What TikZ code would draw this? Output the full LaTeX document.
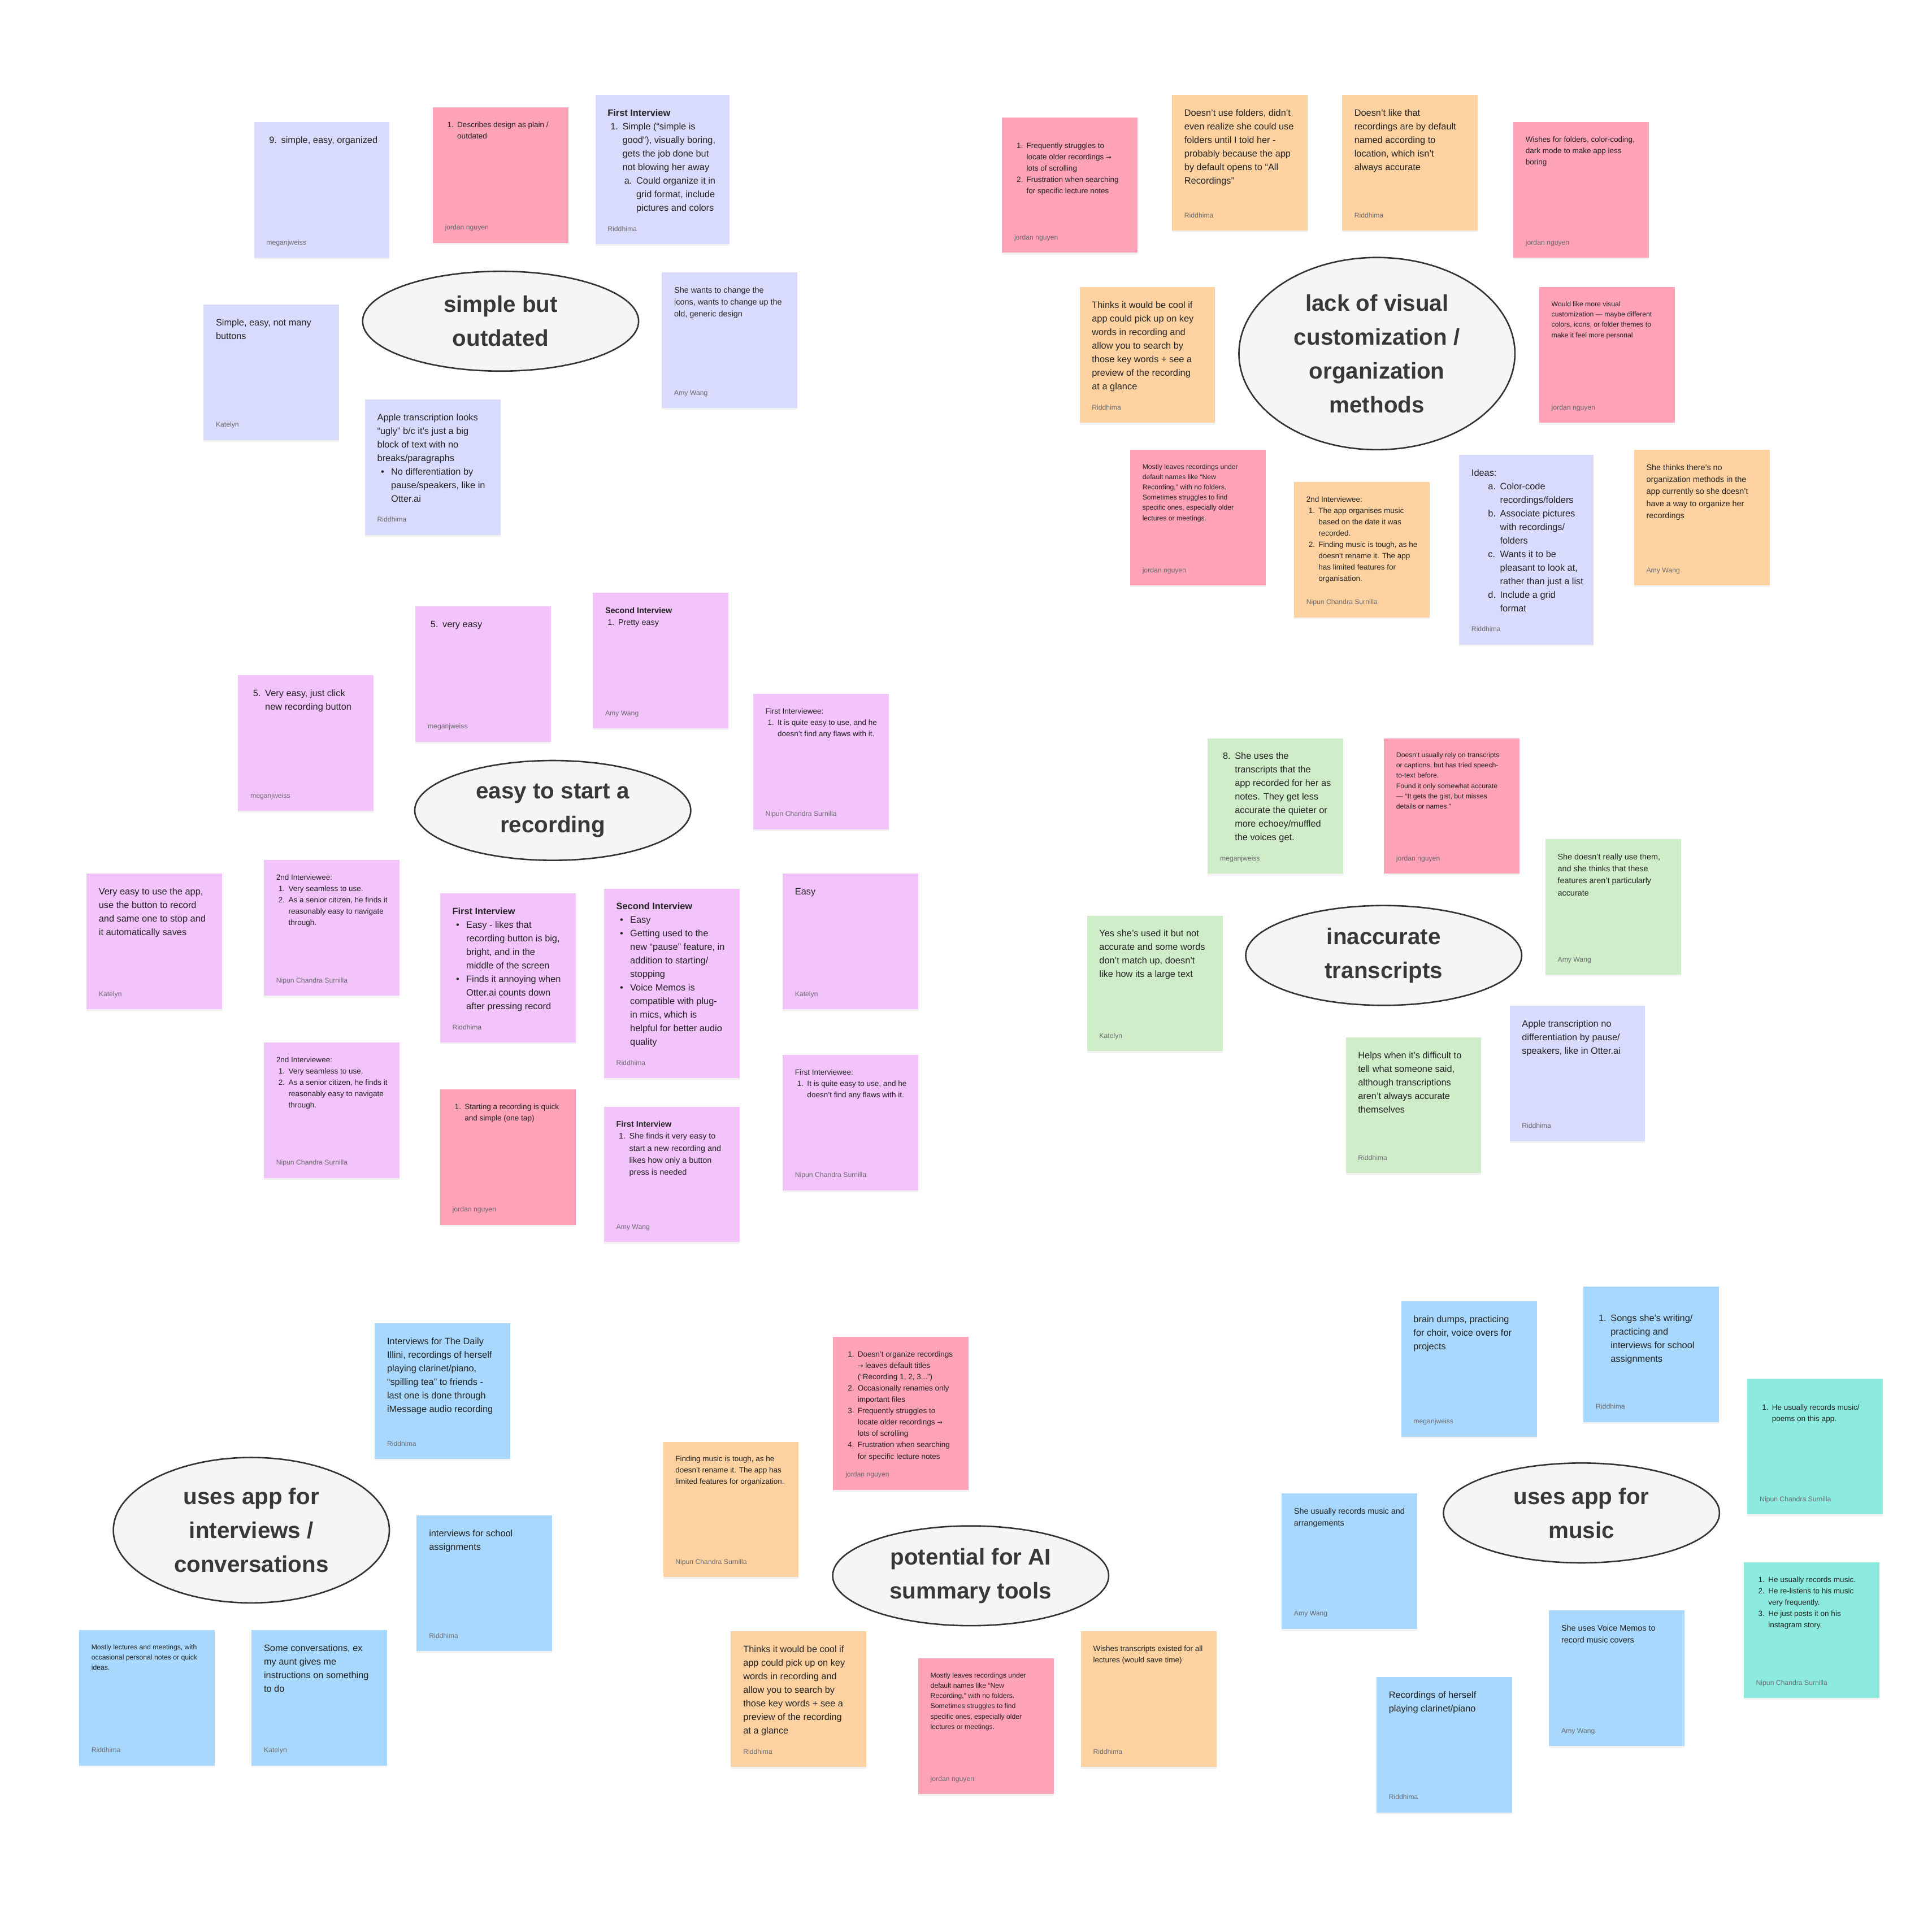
\documentclass[tikz,border=0pt]{standalone}
\usepackage{fontspec}
\setmainfont{Liberation Sans}
\newfontfamily\arrowfont{DejaVu Sans}
\usetikzlibrary{shapes.geometric,shadows}
\definecolor{cLav}{HTML}{D9DBFC}
\definecolor{cPink}{HTML}{FEA2B8}
\definecolor{cPeach}{HTML}{FDD2A0}
\definecolor{cViolet}{HTML}{F3C4FC}
\definecolor{cMint}{HTML}{D0EDC9}
\definecolor{cSky}{HTML}{A8D8FD}
\definecolor{cTeal}{HTML}{8CEBDE}
\definecolor{ink}{HTML}{222222}
\definecolor{authorgray}{HTML}{6C6C70}
\definecolor{bubble}{HTML}{F5F5F5}
\definecolor{outline}{HTML}{333333}
\definecolor{labelink}{HTML}{383838}
\newcommand{\itm}[1]{\hspace*{0.3em}\makebox[1.3em][l]{#1}}
\newcommand{\cnt}{\hspace*{1.6em}}
\newcommand{\sitm}[1]{\hspace*{1.8em}\makebox[1.3em][l]{#1}}
\newcommand{\scnt}{\hspace*{3.1em}}
\newcommand{\bul}{\hspace*{0.4em}\makebox[1.1em][l]{•}}
\newcommand{\bcnt}{\hspace*{1.5em}}
\newcommand{\rarr}{{\arrowfont\scalebox{0.85}{→}}}
\tikzset{
  stickybox/.style={draw=none, inner sep=0pt, anchor=north west, minimum width=110pt, minimum height=110pt,
    drop shadow={opacity=0.10, shadow xshift=0pt, shadow yshift=-1.5pt}},
  stext/.style={inner sep=0pt, anchor=north west, align=left, text=ink},
  sauthor/.style={inner sep=0pt, anchor=base west, text=authorgray, font=\fontsize{5.6}{7}\selectfont},
  fbig/.style={font=\fontsize{7.5}{11}\selectfont},
  fmed/.style={font=\fontsize{6.6}{9.8}\selectfont},
  fsmall/.style={font=\fontsize{6.2}{9.2}\selectfont},
  ftiny/.style={font=\fontsize{5.6}{8.3}\selectfont},
  topic/.style={ellipse, draw=outline, line width=1.2pt, fill=bubble, inner sep=0pt,
    minimum width=224pt, minimum height=81pt, align=center, text=labelink,
    font=\bfseries\fontsize{18.5}{27.5}\selectfont},
}
% #1 text y-offset, #2 name, #3 x,y, #4 box options, #5 font style, #6 text, #7 author
\newcommand{\sticky}[7][11.5]{%
  \node[stickybox, #4] (#2) at (#3) {};
  \node[stext, #5] (#2t) at ([xshift=10pt, yshift=-#1pt]#2.north west) {\rule{0pt}{.75em}#6};
  \node[sauthor] (#2a) at ([xshift=10pt, yshift=10.8pt]#2.south west) {#7};
}
\begin{document}
\begin{tikzpicture}[x=1pt, y=-1pt]
\fill[white] (0,0) rectangle (1568,1555);
\useasboundingbox (0,0) rectangle (1568,1555);

% ---------- simple but outdated ----------
\node[topic] (t1) at (406.3,260.7) {simple but\\outdated};
\sticky{n1}{206,99}{fill=cLav}{fbig}{\itm{9.}simple, easy, organized}{meganjweiss}
\sticky{n2}{351,87}{fill=cPink}{fsmall}{\itm{1.}Describes design as plain /\\\cnt outdated}{jordan nguyen}
\sticky{n3}{483,77}{fill=cLav, minimum width=109pt, minimum height=121pt}{fbig}{\textbf{First Interview}\\\itm{1.}Simple (“simple is\\\cnt good”), visually boring,\\\cnt gets the job done but\\\cnt not blowing her away\\\sitm{a.}Could organize it in\\\scnt grid format, include\\\scnt pictures and colors}{Riddhima}
\sticky{n4}{165,247}{fill=cLav}{fbig}{Simple, easy, not many\\buttons}{Katelyn}
\sticky{n5}{537,221}{fill=cLav}{fmed}{She wants to change the\\icons, wants to change up the\\old, generic design}{Amy Wang}
\sticky{n6}{296,324}{fill=cLav}{fbig}{Apple transcription looks\\“ugly” b/c it’s just a big\\block of text with no\\breaks/paragraphs\\\bul No differentiation by\\\bcnt pause/speakers, like in\\\bcnt Otter.ai}{Riddhima}

% ---------- lack of visual customization ----------
\node[topic, minimum height=156pt] (t2) at (1117.5,287) {lack of visual\\customization /\\organization\\methods};
\sticky[20.5]{n7}{813,95}{fill=cPink}{fsmall}{\itm{1.}Frequently struggles to\\\cnt locate older recordings \rarr\\\cnt lots of scrolling\\\itm{2.}Frustration when searching\\\cnt for specific lecture notes}{jordan nguyen}
\sticky{n8}{951,77}{fill=cPeach}{fbig}{Doesn’t use folders, didn’t\\even realize she could use\\folders until I told her -\\probably because the app\\by default opens to “All\\Recordings”}{Riddhima}
\sticky{n9}{1089,77}{fill=cPeach}{fbig}{Doesn’t like that\\recordings are by default\\named according to\\location, which isn’t\\always accurate}{Riddhima}
\sticky{n10}{1228,99}{fill=cPink}{fsmall}{Wishes for folders, color-coding,\\dark mode to make app less\\boring}{jordan nguyen}
\sticky{n11}{876,233}{fill=cPeach}{fbig}{Thinks it would be cool if\\app could pick up on key\\words in recording and\\allow you to search by\\those key words + see a\\preview of the recording\\at a glance}{Riddhima}
\sticky{n12}{1249,233}{fill=cPink}{ftiny}{Would like more visual\\customization — maybe different\\colors, icons, or folder themes to\\make it feel more personal}{jordan nguyen}
\sticky{n13}{917,365}{fill=cPink}{ftiny}{Mostly leaves recordings under\\default names like “New\\Recording,” with no folders.\\Sometimes struggles to find\\specific ones, especially older\\lectures or meetings.}{jordan nguyen}
\sticky{n14}{1050,391}{fill=cPeach}{fsmall}{2nd Interviewee:\\\itm{1.}The app organises music\\\cnt based on the date it was\\\cnt recorded.\\\itm{2.}Finding music is tough, as he\\\cnt doesn’t rename it. The app\\\cnt has limited features for\\\cnt organisation.}{Nipun Chandra Surnilla}
\sticky{n15}{1184,369}{fill=cLav, minimum width=109pt, minimum height=154pt}{fbig}{Ideas:\\\sitm{a.}Color-code\\\scnt recordings/folders\\\sitm{b.}Associate pictures\\\scnt with recordings/\\\scnt folders\\\sitm{c.}Wants it to be\\\scnt pleasant to look at,\\\scnt rather than just a list\\\sitm{d.}Include a grid\\\scnt format}{Riddhima}
\sticky{n16}{1326,365}{fill=cPeach}{fmed}{She thinks there’s no\\organization methods in the\\app currently so she doesn’t\\have a way to organize her\\recordings}{Amy Wang}

% ---------- easy to start a recording ----------
\node[topic] (t3) at (448.6,657.8) {easy to start a\\recording};
\sticky{n17}{337,492}{fill=cViolet}{fbig}{\itm{5.}very easy}{meganjweiss}
\sticky{n18}{481,481}{fill=cViolet}{fmed}{\textbf{Second Interview}\\\itm{1.}Pretty easy}{Amy Wang}
\sticky{n19}{193,548}{fill=cViolet}{fbig}{\itm{5.}Very easy, just click\\\cnt new recording button}{meganjweiss}
\sticky{n20}{611,563}{fill=cViolet}{fsmall}{First Interviewee:\\\itm{1.}It is quite easy to use, and he\\\cnt doesn’t find any flaws with it.}{Nipun Chandra Surnilla}
\sticky{n21}{70,709}{fill=cViolet}{fbig}{Very easy to use the app,\\use the button to record\\and same one to stop and\\it automatically saves}{Katelyn}
\sticky{n22}{214,698}{fill=cViolet}{fsmall}{2nd Interviewee:\\\itm{1.}Very seamless to use.\\\itm{2.}As a senior citizen, he finds it\\\cnt reasonably easy to navigate\\\cnt through.}{Nipun Chandra Surnilla}
\sticky{n23}{357,725}{fill=cViolet, minimum height=121pt}{fbig}{\textbf{First Interview}\\\bul Easy - likes that\\\bcnt recording button is big,\\\bcnt bright, and in the\\\bcnt middle of the screen\\\bul Finds it annoying when\\\bcnt Otter.ai counts down\\\bcnt after pressing record}{Riddhima}
\sticky{n24}{490,721}{fill=cViolet, minimum height=154pt}{fbig}{\textbf{Second Interview}\\\bul Easy\\\bul Getting used to the\\\bcnt new “pause” feature, in\\\bcnt addition to starting/\\\bcnt stopping\\\bul Voice Memos is\\\bcnt compatible with plug-\\\bcnt in mics, which is\\\bcnt helpful for better audio\\\bcnt quality}{Riddhima}
\sticky{n25}{635,709}{fill=cViolet}{fbig}{Easy}{Katelyn}
\sticky{n26}{214,846}{fill=cViolet}{fsmall}{2nd Interviewee:\\\itm{1.}Very seamless to use.\\\itm{2.}As a senior citizen, he finds it\\\cnt reasonably easy to navigate\\\cnt through.}{Nipun Chandra Surnilla}
\sticky{n27}{357,884}{fill=cPink}{fsmall}{\itm{1.}Starting a recording is quick\\\cnt and simple (one tap)}{jordan nguyen}
\sticky{n28}{490,898}{fill=cViolet}{fmed}{\textbf{First Interview}\\\itm{1.}She finds it very easy to\\\cnt start a new recording and\\\cnt likes how only a button\\\cnt press is needed}{Amy Wang}
\sticky{n29}{635,856}{fill=cViolet}{fsmall}{First Interviewee:\\\itm{1.}It is quite easy to use, and he\\\cnt doesn’t find any flaws with it.}{Nipun Chandra Surnilla}

% ---------- inaccurate transcripts ----------
\node[topic] (t4) at (1123,775.5) {inaccurate\\transcripts};
\sticky{n30}{980,599}{fill=cMint}{fbig}{\itm{8.}She uses the\\\cnt transcripts that the\\\cnt app recorded for her as\\\cnt notes. They get less\\\cnt accurate the quieter or\\\cnt more echoey/muffled\\\cnt the voices get.}{meganjweiss}
\sticky{n31}{1123,599}{fill=cPink}{ftiny}{Doesn’t usually rely on transcripts\\or captions, but has tried speech-\\to-text before.\\Found it only somewhat accurate\\— “It gets the gist, but misses\\details or names.”}{jordan nguyen}
\sticky{n32}{1254,681}{fill=cMint}{fmed}{She doesn’t really use them,\\and she thinks that these\\features aren’t particularly\\accurate}{Amy Wang}
\sticky{n33}{882,743}{fill=cMint}{fbig}{Yes she’s used it but not\\accurate and some words\\don’t match up, doesn’t\\like how its a large text}{Katelyn}
\sticky{n34}{1092,842}{fill=cMint}{fbig}{Helps when it’s difficult to\\tell what someone said,\\although transcriptions\\aren’t always accurate\\themselves}{Riddhima}
\sticky{n35}{1225,816}{fill=cLav}{fbig}{Apple transcription no\\differentiation by pause/\\speakers, like in Otter.ai}{Riddhima}

% ---------- interviews / conversations ----------
\node[topic, minimum height=118pt] (t5) at (204,1242) {uses app for\\interviews /\\conversations};
\sticky{n36}{304,1074}{fill=cSky}{fbig}{Interviews for The Daily\\Illini, recordings of herself\\playing clarinet/piano,\\“spilling tea” to friends -\\last one is done through\\iMessage audio recording}{Riddhima}
\sticky{n37}{338,1230}{fill=cSky}{fbig}{interviews for school\\assignments}{Riddhima}
\sticky{n38}{64,1323}{fill=cSky}{ftiny}{Mostly lectures and meetings, with\\occasional personal notes or quick\\ideas.}{Riddhima}
\sticky{n39}{204,1323}{fill=cSky}{fbig}{Some conversations, ex\\my aunt gives me\\instructions on something\\to do}{Katelyn}

% ---------- potential for AI summary tools ----------
\node[topic] (t6) at (787.8,1279) {potential for AI\\summary tools};
\sticky{n40}{676,1085}{fill=cPink, minimum height=124pt}{fsmall}{\itm{1.}Doesn’t organize recordings\\\cnt \rarr{} leaves default titles\\\cnt (“Recording 1, 2, 3...”)\\\itm{2.}Occasionally renames only\\\cnt important files\\\itm{3.}Frequently struggles to\\\cnt locate older recordings \rarr\\\cnt lots of scrolling\\\itm{4.}Frustration when searching\\\cnt for specific lecture notes}{jordan nguyen}
\sticky{n41}{538,1170}{fill=cPeach}{fsmall}{Finding music is tough, as he\\doesn’t rename it. The app has\\limited features for organization.}{Nipun Chandra Surnilla}
\sticky{n42}{593,1324}{fill=cPeach}{fbig}{Thinks it would be cool if\\app could pick up on key\\words in recording and\\allow you to search by\\those key words + see a\\preview of the recording\\at a glance}{Riddhima}
\sticky{n43}{745,1346}{fill=cPink}{ftiny}{Mostly leaves recordings under\\default names like “New\\Recording,” with no folders.\\Sometimes struggles to find\\specific ones, especially older\\lectures or meetings.}{jordan nguyen}
\sticky{n44}{877,1324}{fill=cPeach}{fsmall}{Wishes transcripts existed for all\\lectures (would save time)}{Riddhima}

% ---------- uses app for music ----------
\node[topic] (t7) at (1283.5,1228) {uses app for\\music};
\sticky{n45}{1137,1056}{fill=cSky}{fbig}{brain dumps, practicing\\for choir, voice overs for\\projects}{meganjweiss}
\sticky[22.5]{n46}{1285,1044}{fill=cSky}{fbig}{\itm{1.}Songs she’s writing/\\\cnt practicing and\\\cnt interviews for school\\\cnt assignments}{Riddhima}
\sticky[20.5]{n47}{1418,1119}{fill=cTeal}{fsmall}{\itm{1.}He usually records music/\\\cnt poems on this app.}{Nipun Chandra Surnilla}
\sticky{n48}{1040,1212}{fill=cSky}{fmed}{She usually records music and\\arrangements}{Amy Wang}
\sticky{n49}{1415,1268}{fill=cTeal}{fsmall}{\itm{1.}He usually records music.\\\itm{2.}He re-listens to his music\\\cnt very frequently.\\\itm{3.}He just posts it on his\\\cnt instagram story.}{Nipun Chandra Surnilla}
\sticky{n50}{1257,1307}{fill=cSky}{fmed}{She uses Voice Memos to\\record music covers}{Amy Wang}
\sticky{n51}{1117,1361}{fill=cSky}{fbig}{Recordings of herself\\playing clarinet/piano}{Riddhima}
\end{tikzpicture}
\end{document}
